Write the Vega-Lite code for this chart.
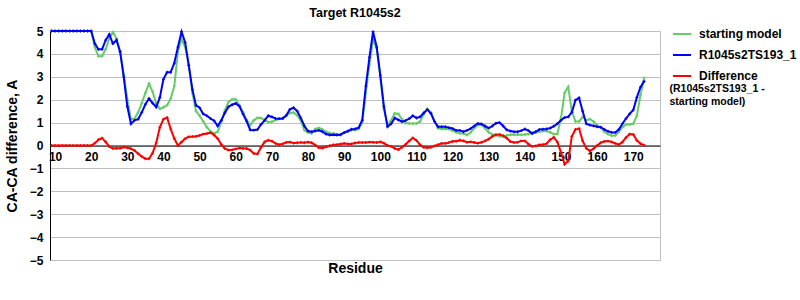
{
"$schema": "https://vega.github.io/schema/vega-lite/v6.json",
"width": 610, "height": 229,
"autosize": {"type": "none"},
"padding": {"left": 50, "top": 31, "right": 140, "bottom": 40},
"background": "white",
"title": {"text": "Target R1045s2", "font": "Liberation Sans", "fontSize": 12.5, "fontWeight": "bold", "color": "black", "offset": 5},
"config": {"view": {"stroke": "#C0C0C0"},
  "axisY": {"values": [-5,-4,-3,-2,-1,0,1,2,3,4,5], "grid": true, "gridColor": "#C0C0C0", "gridWidth": 1,
         "domainColor": "black", "ticks": false, "labelFont": "Liberation Sans", "labelFontSize": 12, "labelFontWeight": "bold", "labelColor": "black", "labelPadding": 7, "labelOverlap": false,
         "titleFont": "Liberation Sans", "titleFontSize": 14, "titleFontWeight": "bold", "titleColor": "black", "titlePadding": 10}},
"data": {"values": [
{"residue":9,"model":5,"starting":5,"difference":0},
{"residue":10,"model":5,"starting":5,"difference":0},
{"residue":11,"model":5,"starting":5,"difference":0},
{"residue":12,"model":5,"starting":5,"difference":0},
{"residue":13,"model":5,"starting":5,"difference":0},
{"residue":14,"model":5,"starting":5,"difference":0},
{"residue":15,"model":5,"starting":5,"difference":0},
{"residue":16,"model":5,"starting":5,"difference":0},
{"residue":17,"model":5,"starting":5,"difference":0},
{"residue":18,"model":5,"starting":5,"difference":0},
{"residue":19,"model":5,"starting":5,"difference":0},
{"residue":20,"model":5,"starting":5,"difference":0},
{"residue":21,"model":4.45,"starting":4.3,"difference":0.1},
{"residue":22,"model":4.2,"starting":3.9,"difference":0.25},
{"residue":23,"model":4.2,"starting":3.9,"difference":0.32},
{"residue":24,"model":4.6,"starting":4.2,"difference":0.16},
{"residue":25,"model":4.85,"starting":4.67,"difference":-0.05},
{"residue":26,"model":4.45,"starting":4.95,"difference":-0.13},
{"residue":27,"model":4.6,"starting":4.68,"difference":-0.12},
{"residue":28,"model":4.1,"starting":4.1,"difference":-0.12},
{"residue":29,"model":3.0,"starting":3.1,"difference":-0.07},
{"residue":30,"model":1.7,"starting":2.0,"difference":-0.1},
{"residue":31,"model":0.95,"starting":1.15,"difference":-0.14},
{"residue":32,"model":1.1,"starting":1.18,"difference":-0.22},
{"residue":33,"model":1.15,"starting":1.45,"difference":-0.36},
{"residue":34,"model":1.45,"starting":1.85,"difference":-0.48},
{"residue":35,"model":1.8,"starting":2.3,"difference":-0.58},
{"residue":36,"model":2.05,"starting":2.7,"difference":-0.58},
{"residue":37,"model":1.85,"starting":2.34,"difference":-0.33},
{"residue":38,"model":1.68,"starting":1.83,"difference":0.12},
{"residue":39,"model":2.1,"starting":1.6,"difference":0.8},
{"residue":40,"model":2.9,"starting":1.67,"difference":1.15},
{"residue":41,"model":3.2,"starting":1.76,"difference":1.22},
{"residue":42,"model":3.2,"starting":2.05,"difference":0.72},
{"residue":43,"model":3.6,"starting":2.6,"difference":0.3},
{"residue":44,"model":4.3,"starting":4.1,"difference":0.0},
{"residue":45,"model":4.97,"starting":4.65,"difference":0.15},
{"residue":46,"model":4.5,"starting":4.3,"difference":0.3},
{"residue":47,"model":3.5,"starting":3.5,"difference":0.38},
{"residue":48,"model":2.45,"starting":2.3,"difference":0.39},
{"residue":49,"model":1.75,"starting":1.5,"difference":0.4},
{"residue":50,"model":1.65,"starting":1.3,"difference":0.44},
{"residue":51,"model":1.38,"starting":1.05,"difference":0.5},
{"residue":52,"model":1.3,"starting":0.8,"difference":0.52},
{"residue":53,"model":1.18,"starting":0.62,"difference":0.56},
{"residue":54,"model":1.08,"starting":0.53,"difference":0.46},
{"residue":55,"model":0.85,"starting":0.6,"difference":0.3},
{"residue":56,"model":1.1,"starting":1.03,"difference":0.05},
{"residue":57,"model":1.43,"starting":1.54,"difference":-0.14},
{"residue":58,"model":1.69,"starting":1.9,"difference":-0.2},
{"residue":59,"model":1.78,"starting":2.02,"difference":-0.19},
{"residue":60,"model":1.84,"starting":2.02,"difference":-0.15},
{"residue":61,"model":1.72,"starting":1.75,"difference":-0.11},
{"residue":62,"model":1.38,"starting":1.45,"difference":-0.13},
{"residue":63,"model":1.06,"starting":1.12,"difference":-0.13},
{"residue":64,"model":0.68,"starting":0.89,"difference":-0.2},
{"residue":65,"model":0.67,"starting":1.1,"difference":-0.35},
{"residue":66,"model":0.7,"starting":1.21,"difference":-0.37},
{"residue":67,"model":0.92,"starting":1.2,"difference":-0.08},
{"residue":68,"model":1.1,"starting":1.12,"difference":0.16},
{"residue":69,"model":1.3,"starting":1.02,"difference":0.23},
{"residue":70,"model":1.25,"starting":1.04,"difference":0.19},
{"residue":71,"model":1.18,"starting":1.11,"difference":0.09},
{"residue":72,"model":1.17,"starting":1.16,"difference":0.04},
{"residue":73,"model":1.18,"starting":1.2,"difference":0.07},
{"residue":74,"model":1.32,"starting":1.3,"difference":0.14},
{"residue":75,"model":1.58,"starting":1.42,"difference":0.15},
{"residue":76,"model":1.65,"starting":1.44,"difference":0.1},
{"residue":77,"model":1.5,"starting":1.32,"difference":0.12},
{"residue":78,"model":1.2,"starting":1.08,"difference":0.13},
{"residue":79,"model":0.85,"starting":0.67,"difference":0.12},
{"residue":80,"model":0.63,"starting":0.57,"difference":0.15},
{"residue":81,"model":0.6,"starting":0.53,"difference":0.12},
{"residue":82,"model":0.63,"starting":0.72,"difference":0.02},
{"residue":83,"model":0.66,"starting":0.77,"difference":-0.1},
{"residue":84,"model":0.6,"starting":0.7,"difference":-0.11},
{"residue":85,"model":0.5,"starting":0.6,"difference":-0.06},
{"residue":86,"model":0.46,"starting":0.54,"difference":-0.01},
{"residue":87,"model":0.47,"starting":0.52,"difference":0.03},
{"residue":88,"model":0.46,"starting":0.5,"difference":0.04},
{"residue":89,"model":0.47,"starting":0.48,"difference":0.06},
{"residue":90,"model":0.56,"starting":0.56,"difference":0.09},
{"residue":91,"model":0.63,"starting":0.6,"difference":0.07},
{"residue":92,"model":0.71,"starting":0.67,"difference":0.07},
{"residue":93,"model":0.72,"starting":0.68,"difference":0.11},
{"residue":94,"model":0.78,"starting":0.72,"difference":0.13},
{"residue":95,"model":1.1,"starting":1.0,"difference":0.13},
{"residue":96,"model":2.6,"starting":2.3,"difference":0.13},
{"residue":97,"model":3.85,"starting":3.55,"difference":0.15},
{"residue":98,"model":4.97,"starting":4.6,"difference":0.14},
{"residue":99,"model":4.3,"starting":4.25,"difference":0.13},
{"residue":100,"model":3.07,"starting":3.0,"difference":0.16},
{"residue":101,"model":1.7,"starting":1.6,"difference":0.1},
{"residue":102,"model":0.82,"starting":0.89,"difference":0.0},
{"residue":103,"model":0.95,"starting":1.1,"difference":-0.04},
{"residue":104,"model":1.2,"starting":1.4,"difference":-0.13},
{"residue":105,"model":1.12,"starting":1.38,"difference":-0.18},
{"residue":106,"model":1.04,"starting":1.15,"difference":-0.08},
{"residue":107,"model":1.09,"starting":0.98,"difference":0.05},
{"residue":108,"model":1.17,"starting":0.96,"difference":0.2},
{"residue":109,"model":1.3,"starting":0.96,"difference":0.33},
{"residue":110,"model":1.2,"starting":0.96,"difference":0.22},
{"residue":111,"model":1.25,"starting":1.05,"difference":0.03},
{"residue":112,"model":1.42,"starting":1.35,"difference":-0.08},
{"residue":113,"model":1.57,"starting":1.6,"difference":-0.1},
{"residue":114,"model":1.4,"starting":1.45,"difference":-0.08},
{"residue":115,"model":1.05,"starting":1.05,"difference":-0.02},
{"residue":116,"model":0.82,"starting":0.75,"difference":0.04},
{"residue":117,"model":0.82,"starting":0.72,"difference":0.09},
{"residue":118,"model":0.82,"starting":0.72,"difference":0.09},
{"residue":119,"model":0.78,"starting":0.72,"difference":0.13},
{"residue":120,"model":0.74,"starting":0.65,"difference":0.18},
{"residue":121,"model":0.66,"starting":0.58,"difference":0.19},
{"residue":122,"model":0.66,"starting":0.53,"difference":0.23},
{"residue":123,"model":0.6,"starting":0.52,"difference":0.2},
{"residue":124,"model":0.66,"starting":0.46,"difference":0.14},
{"residue":125,"model":0.74,"starting":0.57,"difference":0.16},
{"residue":126,"model":0.85,"starting":0.76,"difference":0.13},
{"residue":127,"model":0.96,"starting":0.89,"difference":0.1},
{"residue":128,"model":0.94,"starting":0.9,"difference":0.14},
{"residue":129,"model":0.85,"starting":0.75,"difference":0.2},
{"residue":130,"model":0.76,"starting":0.58,"difference":0.28},
{"residue":131,"model":0.85,"starting":0.48,"difference":0.4},
{"residue":132,"model":0.97,"starting":0.46,"difference":0.47},
{"residue":133,"model":1.0,"starting":0.4,"difference":0.48},
{"residue":134,"model":0.85,"starting":0.38,"difference":0.43},
{"residue":135,"model":0.68,"starting":0.44,"difference":0.32},
{"residue":136,"model":0.63,"starting":0.47,"difference":0.17},
{"residue":137,"model":0.6,"starting":0.47,"difference":0.13},
{"residue":138,"model":0.6,"starting":0.47,"difference":0.14},
{"residue":139,"model":0.65,"starting":0.47,"difference":0.2},
{"residue":140,"model":0.72,"starting":0.48,"difference":0.2},
{"residue":141,"model":0.65,"starting":0.5,"difference":0.06},
{"residue":142,"model":0.52,"starting":0.57,"difference":-0.04},
{"residue":143,"model":0.6,"starting":0.58,"difference":-0.02},
{"residue":144,"model":0.7,"starting":0.6,"difference":0.03},
{"residue":145,"model":0.71,"starting":0.63,"difference":0.04},
{"residue":146,"model":0.72,"starting":0.63,"difference":0.08},
{"residue":147,"model":0.76,"starting":0.58,"difference":0.25},
{"residue":148,"model":0.84,"starting":0.5,"difference":0.36},
{"residue":149,"model":0.95,"starting":0.5,"difference":0.15},
{"residue":150,"model":1.1,"starting":1.2,"difference":-0.3},
{"residue":151,"model":1.22,"starting":2.3,"difference":-0.82},
{"residue":152,"model":1.25,"starting":2.56,"difference":-0.68},
{"residue":153,"model":1.45,"starting":1.5,"difference":0.4},
{"residue":154,"model":1.98,"starting":1.05,"difference":0.7},
{"residue":155,"model":2.08,"starting":1.05,"difference":0.74},
{"residue":156,"model":1.5,"starting":1.25,"difference":0.2},
{"residue":157,"model":0.95,"starting":1.1,"difference":-0.12},
{"residue":158,"model":0.89,"starting":1.15,"difference":-0.24},
{"residue":159,"model":0.86,"starting":1.05,"difference":-0.14},
{"residue":160,"model":0.82,"starting":0.88,"difference":0.0},
{"residue":161,"model":0.8,"starting":0.78,"difference":0.12},
{"residue":162,"model":0.7,"starting":0.6,"difference":0.18},
{"residue":163,"model":0.62,"starting":0.5,"difference":0.19},
{"residue":164,"model":0.57,"starting":0.43,"difference":0.16},
{"residue":165,"model":0.57,"starting":0.44,"difference":0.09},
{"residue":166,"model":0.7,"starting":0.6,"difference":0.04},
{"residue":167,"model":0.95,"starting":0.8,"difference":0.15},
{"residue":168,"model":1.18,"starting":0.92,"difference":0.35},
{"residue":169,"model":1.38,"starting":0.92,"difference":0.5},
{"residue":170,"model":1.55,"starting":0.95,"difference":0.48},
{"residue":171,"model":2.1,"starting":1.3,"difference":0.22},
{"residue":172,"model":2.55,"starting":2.2,"difference":0.08},
{"residue":173,"model":2.8,"starting":2.95,"difference":0.02}
]},
"encoding": {
  "x": {"field": "residue", "type": "quantitative",
    "scale": {"domain": [8.6, 177.4], "nice": false, "zero": false},
    "axis": {"values": [10,20,30,40,50,60,70,80,90,100,110,120,130,140,150,160,170],
      "offset": -114.5, "domainColor": "black", "domainWidth": 1, "ticks": false, "grid": false,
      "labelFont": "Liberation Sans", "labelFontSize": 12, "labelFontWeight": "bold", "labelColor": "black",
      "labelPadding": 6, "labelOverlap": false,
      "title": "Residue", "titleFont": "Liberation Sans", "titleFontSize": 14, "titleFontWeight": "bold", "titleColor": "black", "titlePadding": 99}}
},
"layer": [
  {"mark": {"type": "line", "strokeWidth": 2, "point": {"shape": "cross", "size": 8, "filled": true}},
   "encoding": {
     "y": {"field": "starting", "type": "quantitative", "title": "CA-CA difference, A",
       "scale": {"domain": [-5, 5], "nice": false},
       "axis": {"values": [-5,-4,-3,-2,-1,0,1,2,3,4,5], "labelOverlap": false}},
     "color": {"datum": "starting model", "type": "nominal",
       "scale": {"domain": ["starting model", "R1045s2TS193_1", "Difference"], "range": ["#66CC66", "#0000FF", "#FF0000"]},
       "legend": {"orient": "none", "legendX": 622, "legendY": -7, "title": null, "symbolType": "stroke", "symbolStrokeWidth": 2, "symbolSize": 324,
         "labelFont": "Liberation Sans", "labelFontSize": 12, "labelFontWeight": "bold", "labelColor": "black", "labelOffset": 7, "rowPadding": 5, "labelLimit": 200}}
   }},
  {"mark": {"type": "line", "strokeWidth": 2, "point": {"shape": "cross", "size": 8, "filled": true}},
   "encoding": {
     "y": {"field": "model", "type": "quantitative", "title": "CA-CA difference, A",
       "scale": {"domain": [-5, 5], "nice": false},
       "axis": {"values": [-5,-4,-3,-2,-1,0,1,2,3,4,5], "labelOverlap": false}},
     "color": {"datum": "R1045s2TS193_1", "type": "nominal"}
   }},
  {"mark": {"type": "line", "strokeWidth": 2, "point": {"shape": "cross", "size": 8, "filled": true}},
   "encoding": {
     "y": {"field": "difference", "type": "quantitative", "title": "CA-CA difference, A",
       "scale": {"domain": [-5, 5], "nice": false},
       "axis": {"values": [-5,-4,-3,-2,-1,0,1,2,3,4,5], "labelOverlap": false}},
     "color": {"datum": "Difference", "type": "nominal"},
     "strokeDash": {"datum": "(R1045s2TS193_1 - starting model)", "type": "nominal",
       "scale": {"domain": ["(R1045s2TS193_1 - starting model)"], "range": [[1, 0]]},
       "legend": {"orient": "none", "legendX": 609, "legendY": 53, "title": null, "symbolSize": 0, "symbolOpacity": 0, "symbolStrokeWidth": 0,
         "labelFont": "Liberation Sans", "labelFontSize": 10.5, "labelFontWeight": "bold", "labelColor": "black", "labelOffset": 0,
         "labelExpr": "['(R1045s2TS193_1 -', '       starting model)']"}}
   }}
]
}
